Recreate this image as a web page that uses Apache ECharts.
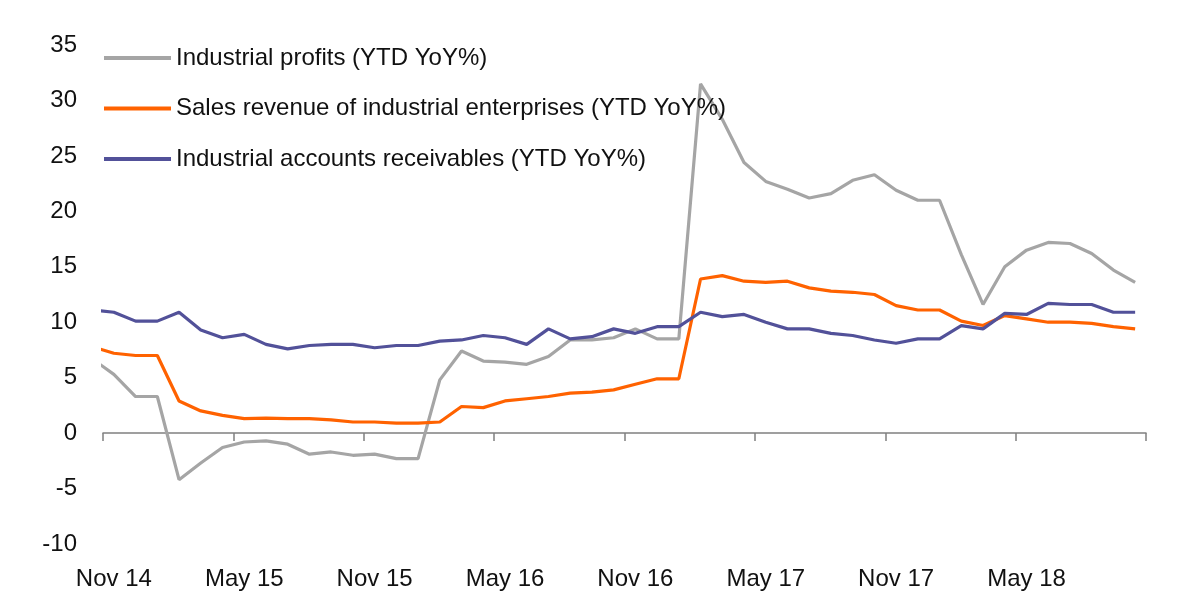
<!DOCTYPE html>
<html>
<head>
<meta charset="utf-8">
<script src="https://cdn.jsdelivr.net/npm/echarts@6/dist/echarts.min.js"></script>
<style>
html,body{margin:0;padding:0;background:#fff;}
#chart{width:1191px;height:614px;}
</style>
</head>
<body>
<div id="chart"></div>
<script>
// Months: Oct 14 (partly outside the axis, clipped) through Oct 18
const months = ['Oct 14','Nov 14','Dec 14',
  'Jan 15','Feb 15','Mar 15','Apr 15','May 15','Jun 15','Jul 15','Aug 15','Sep 15','Oct 15','Nov 15','Dec 15',
  'Jan 16','Feb 16','Mar 16','Apr 16','May 16','Jun 16','Jul 16','Aug 16','Sep 16','Oct 16','Nov 16','Dec 16',
  'Jan 17','Feb 17','Mar 17','Apr 17','May 17','Jun 17','Jul 17','Aug 17','Sep 17','Oct 17','Nov 17','Dec 17',
  'Jan 18','Feb 18','Mar 18','Apr 18','May 18','Jun 18','Jul 18','Aug 18','Sep 18','Oct 18'];

const profits = [6.7, 5.3, 3.3,
  3.3, -4.2, -2.7, -1.3, -0.8, -0.7, -1.0, -1.9, -1.7, -2.0, -1.9, -2.3,
  -2.3, 4.8, 7.4, 6.5, 6.4, 6.2, 6.9, 8.4, 8.4, 8.6, 9.4, 8.5,
  8.5, 31.5, 28.3, 24.4, 22.7, 22.0, 21.2, 21.6, 22.8, 23.3, 21.9, 21.0,
  21.0, 16.1, 11.6, 15.0, 16.5, 17.2, 17.1, 16.2, 14.7, 13.6];

const sales = [7.8, 7.2, 7.0,
  7.0, 2.9, 2.0, 1.6, 1.3, 1.35, 1.3, 1.3, 1.2, 1.0, 1.0, 0.9,
  0.9, 1.0, 2.4, 2.3, 2.9, 3.1, 3.3, 3.6, 3.7, 3.9, 4.4, 4.9,
  4.9, 13.9, 14.2, 13.7, 13.6, 13.7, 13.1, 12.8, 12.7, 12.5, 11.5, 11.1,
  11.1, 10.1, 9.7, 10.6, 10.3, 10.0, 10.0, 9.9, 9.6, 9.4];

const receivables = [11.1, 10.9, 10.1,
  10.1, 10.9, 9.3, 8.6, 8.9, 8.0, 7.6, 7.9, 8.0, 8.0, 7.7, 7.9,
  7.9, 8.3, 8.4, 8.8, 8.6, 8.0, 9.4, 8.5, 8.7, 9.4, 9.0, 9.6,
  9.6, 10.9, 10.5, 10.7, 10.0, 9.4, 9.4, 9.0, 8.8, 8.4, 8.1, 8.5,
  8.5, 9.7, 9.4, 10.8, 10.7, 11.7, 11.6, 11.6, 10.9, 10.9];

const seriesNames = ['Industrial profits (YTD YoY%)',
  'Sales revenue of industrial enterprises (YTD YoY%)',
  'Industrial accounts receivables (YTD YoY%)'];
const colors = ['#A5A5A5', '#FF6200', '#525199'];
const yTicks = {min: -10, max: 35, step: 5};

const FONT = 'Liberation Sans';
const labelMonths = months.slice(1);
const toPts = arr => arr.map((v, i) => [i - 0.5, v]);

const chart = echarts.init(document.getElementById('chart'), null, {renderer: 'canvas'});
chart.setOption({
  animation: false,
  backgroundColor: '#fff',
  color: colors,
  textStyle: {fontFamily: FONT},
  grid: {left: 103, right: 45, top: 45, bottom: 70, containLabel: false},
  legend: {
    orient: 'vertical', left: 104, top: 45, padding: 0,
    icon: 'rect', itemWidth: 67, itemHeight: 4, itemGap: 24.5,
    textStyle: {fontFamily: FONT, fontSize: 24, color: '#111', lineHeight: 26},
    data: seriesNames
  },
  xAxis: [{
    type: 'value', position: 'bottom',
    min: 0, max: labelMonths.length, interval: 6,
    axisLine: {show: true, onZero: true, lineStyle: {color: '#808080', width: 1.5}},
    axisTick: {show: true, inside: false, length: 8, lineStyle: {color: '#808080', width: 1.5}},
    axisLabel: {show: false},
    splitLine: {show: false}
  }, {
    type: 'category', position: 'bottom', data: labelMonths, boundaryGap: true,
    axisLine: {show: false, onZero: false},
    axisTick: {show: false},
    axisLabel: {interval: 5, margin: 23, fontFamily: FONT, fontSize: 24, color: '#111'},
    splitLine: {show: false}
  }],
  yAxis: {
    type: 'value', min: yTicks.min, max: yTicks.max, interval: yTicks.step,
    axisLine: {show: false}, axisTick: {show: false}, splitLine: {show: false},
    axisLabel: {margin: 26, fontFamily: FONT, fontSize: 24, color: '#111'}
  },
  series: [
    {name: seriesNames[0], type: 'line', xAxisIndex: 0, data: toPts(profits), showSymbol: false, symbol: 'none', clip: true,
     lineStyle: {width: 3.2, color: colors[0]}, z: 2},
    {name: seriesNames[1], type: 'line', xAxisIndex: 0, data: toPts(sales), showSymbol: false, symbol: 'none', clip: true,
     lineStyle: {width: 3.2, color: colors[1]}, z: 3},
    {name: seriesNames[2], type: 'line', xAxisIndex: 0, data: toPts(receivables), showSymbol: false, symbol: 'none', clip: true,
     lineStyle: {width: 3.2, color: colors[2]}, z: 4}
  ]
});
</script>
</body>
</html>
